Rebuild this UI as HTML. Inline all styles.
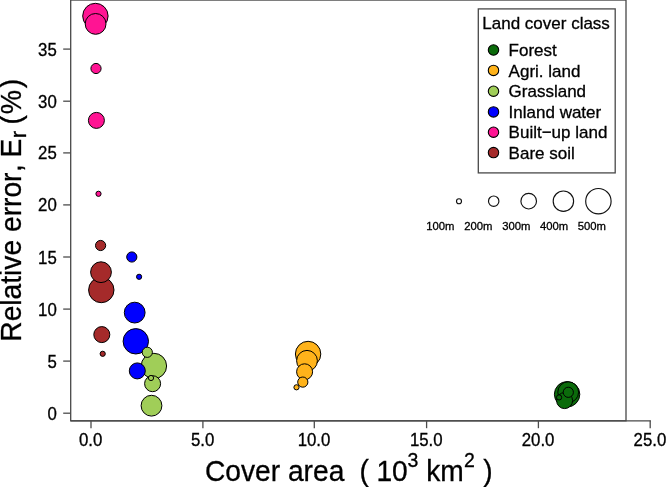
<!DOCTYPE html>
<html><head><meta charset="utf-8"><title>Relative error vs cover area</title>
<style>
html,body{margin:0;padding:0;background:#fff;}
body{width:666px;height:487px;overflow:hidden;}
svg{display:block;will-change:transform;}
text{font-family:"Liberation Sans",sans-serif;fill:#000;stroke:#000;stroke-width:0.3px;}
</style></head><body>
<svg width="666" height="487" viewBox="0 0 666 487">
<rect x="0" y="0" width="666" height="487" fill="#fff"/>
<rect x="70.7" y="0.05" width="555.3" height="420.75" fill="none" stroke="#484848" stroke-width="1.3"/>
<line x1="70.7" y1="420.8" x2="650.9" y2="420.8" stroke="#484848" stroke-width="1.3"/>
<line x1="91.0" y1="420.8" x2="91.0" y2="428.2" stroke="#4c4c4c" stroke-width="1.3"/>
<text font-size="16.8" text-anchor="middle" transform="translate(90.70,446.35) scale(1.000,1.045)">0.0</text>
<line x1="202.9" y1="420.8" x2="202.9" y2="428.2" stroke="#4c4c4c" stroke-width="1.3"/>
<text font-size="16.8" text-anchor="middle" transform="translate(202.55,446.35) scale(1.000,1.045)">5.0</text>
<line x1="314.3" y1="420.8" x2="314.3" y2="428.2" stroke="#4c4c4c" stroke-width="1.3"/>
<text font-size="16.8" text-anchor="middle" transform="translate(314.00,446.35) scale(1.000,1.045)">10.0</text>
<line x1="426.6" y1="420.8" x2="426.6" y2="428.2" stroke="#4c4c4c" stroke-width="1.3"/>
<text font-size="16.8" text-anchor="middle" transform="translate(426.25,446.35) scale(1.000,1.045)">15.0</text>
<line x1="538.4" y1="420.8" x2="538.4" y2="428.2" stroke="#4c4c4c" stroke-width="1.3"/>
<text font-size="16.8" text-anchor="middle" transform="translate(538.10,446.35) scale(1.000,1.045)">20.0</text>
<line x1="650.2" y1="420.8" x2="650.2" y2="428.2" stroke="#4c4c4c" stroke-width="1.3"/>
<text font-size="16.8" text-anchor="middle" transform="translate(649.95,446.35) scale(1.000,1.045)">25.0</text>
<line x1="63.2" y1="413.2" x2="70.7" y2="413.2" stroke="#4c4c4c" stroke-width="1.3"/>
<text font-size="16.8" text-anchor="end" transform="translate(56.80,419.70) scale(1.000,1.045)">0</text>
<line x1="63.2" y1="361.1" x2="70.7" y2="361.1" stroke="#4c4c4c" stroke-width="1.3"/>
<text font-size="16.8" text-anchor="end" transform="translate(56.80,367.63) scale(1.000,1.045)">5</text>
<line x1="63.2" y1="309.1" x2="70.7" y2="309.1" stroke="#4c4c4c" stroke-width="1.3"/>
<text font-size="16.8" text-anchor="end" transform="translate(56.80,315.57) scale(1.000,1.045)">10</text>
<line x1="63.2" y1="257.0" x2="70.7" y2="257.0" stroke="#4c4c4c" stroke-width="1.3"/>
<text font-size="16.8" text-anchor="end" transform="translate(56.80,263.50) scale(1.000,1.045)">15</text>
<line x1="63.2" y1="204.9" x2="70.7" y2="204.9" stroke="#4c4c4c" stroke-width="1.3"/>
<text font-size="16.8" text-anchor="end" transform="translate(56.80,211.44) scale(1.000,1.045)">20</text>
<line x1="63.2" y1="152.9" x2="70.7" y2="152.9" stroke="#4c4c4c" stroke-width="1.3"/>
<text font-size="16.8" text-anchor="end" transform="translate(56.80,159.38) scale(1.000,1.045)">25</text>
<line x1="63.2" y1="101.2" x2="70.7" y2="101.2" stroke="#4c4c4c" stroke-width="1.3"/>
<text font-size="16.8" text-anchor="end" transform="translate(56.80,107.71) scale(1.000,1.045)">30</text>
<line x1="63.2" y1="49.1" x2="70.7" y2="49.1" stroke="#4c4c4c" stroke-width="1.3"/>
<text font-size="16.8" text-anchor="end" transform="translate(56.80,55.65) scale(1.000,1.045)">35</text>
<text font-size="28.2" transform="translate(204.90,481.20) scale(1.000,1.070)">Cover area</text>
<text font-size="28.2" transform="translate(359.50,481.00) scale(1.000,1.040)">(</text>
<text font-size="28.2" transform="translate(376.40,481.00) scale(1.000,1.070)">10</text>
<text font-size="19.5" transform="translate(407.60,467.00) scale(1.000,1.070)">3</text>
<text font-size="28.2" transform="translate(426.20,481.00) scale(1.000,1.070)">km</text>
<text font-size="19.5" transform="translate(464.00,467.00) scale(1.000,1.070)">2</text>
<text font-size="28.2" transform="translate(483.30,481.00) scale(1.000,1.040)">)</text>
<g transform="translate(20.8,341.7) rotate(-90)">
<text font-size="28.2" transform="translate(0.00,0.00) scale(1.000,1.070)">Relative error</text>
<text font-size="28.2" transform="translate(169.80,0.00) scale(1.000,1.070)">,</text>
<text font-size="28.2" transform="translate(184.30,0.00) scale(1.000,1.070)">E</text>
<text font-size="20.0" transform="translate(203.40,5.20) scale(1.120,1.070)">r</text>
<text font-size="28.2" transform="translate(217.10,0.00) scale(1.000,1.040)">(</text>
<text font-size="28.2" transform="translate(227.50,0.00) scale(0.970,1.070)">%</text>
<text font-size="28.2" transform="translate(253.50,0.00) scale(1.000,1.040)">)</text>
</g>
<circle cx="95.4" cy="16.0" r="12.7" fill="#FF1493" stroke="#000" stroke-width="1.0"/>
<circle cx="101.3" cy="290.0" r="12.7" fill="#A52A2A" stroke="#000" stroke-width="1.0"/>
<circle cx="135.8" cy="341.3" r="12.7" fill="#0000FF" stroke="#000" stroke-width="1.0"/>
<circle cx="153.9" cy="366.0" r="12.7" fill="#A0CE58" stroke="#000" stroke-width="1.0"/>
<circle cx="308.1" cy="354.0" r="12.7" fill="#FFB31A" stroke="#000" stroke-width="1.0"/>
<circle cx="567.1" cy="394.3" r="12.7" fill="#0B6B0B" stroke="#000" stroke-width="1.0"/>
<circle cx="95.6" cy="23.9" r="10.4" fill="#FF1493" stroke="#000" stroke-width="1.0"/>
<circle cx="101.0" cy="272.2" r="10.4" fill="#A52A2A" stroke="#000" stroke-width="1.0"/>
<circle cx="134.7" cy="312.6" r="10.4" fill="#0000FF" stroke="#000" stroke-width="1.0"/>
<circle cx="151.5" cy="405.7" r="10.4" fill="#A0CE58" stroke="#000" stroke-width="1.0"/>
<circle cx="307.0" cy="360.8" r="10.4" fill="#FFB31A" stroke="#000" stroke-width="1.0"/>
<circle cx="568.2" cy="392.2" r="10.4" fill="#0B6B0B" stroke="#000" stroke-width="1.0"/>
<circle cx="96.4" cy="120.4" r="8.0" fill="#FF1493" stroke="#000" stroke-width="1.0"/>
<circle cx="101.8" cy="334.6" r="8.0" fill="#A52A2A" stroke="#000" stroke-width="1.0"/>
<circle cx="137.3" cy="370.9" r="8.0" fill="#0000FF" stroke="#000" stroke-width="1.0"/>
<circle cx="152.6" cy="383.7" r="8.0" fill="#A0CE58" stroke="#000" stroke-width="1.0"/>
<circle cx="304.6" cy="371.8" r="8.0" fill="#FFB31A" stroke="#000" stroke-width="1.0"/>
<circle cx="564.6" cy="400.6" r="8.0" fill="#0B6B0B" stroke="#000" stroke-width="1.0"/>
<circle cx="96.0" cy="68.5" r="5.1" fill="#FF1493" stroke="#000" stroke-width="1.0"/>
<circle cx="100.6" cy="245.5" r="5.1" fill="#A52A2A" stroke="#000" stroke-width="1.0"/>
<circle cx="131.8" cy="257.0" r="5.1" fill="#0000FF" stroke="#000" stroke-width="1.0"/>
<circle cx="147.3" cy="352.3" r="5.1" fill="#A0CE58" stroke="#000" stroke-width="1.0"/>
<circle cx="302.8" cy="382.1" r="5.1" fill="#FFB31A" stroke="#000" stroke-width="1.0"/>
<circle cx="568.3" cy="392.3" r="5.1" fill="#0B6B0B" stroke="#000" stroke-width="1.0"/>
<circle cx="98.5" cy="193.8" r="2.6" fill="#FF1493" stroke="#000" stroke-width="1.0"/>
<circle cx="102.7" cy="353.8" r="2.6" fill="#A52A2A" stroke="#000" stroke-width="1.0"/>
<circle cx="139.1" cy="276.8" r="2.6" fill="#0000FF" stroke="#000" stroke-width="1.0"/>
<circle cx="151.0" cy="378.0" r="2.6" fill="#A0CE58" stroke="#000" stroke-width="1.0"/>
<circle cx="296.5" cy="387.3" r="2.6" fill="#FFB31A" stroke="#000" stroke-width="1.0"/>
<circle cx="559.1" cy="397.4" r="2.6" fill="#0B6B0B" stroke="#000" stroke-width="1.0"/>
<rect x="478.3" y="8.9" width="136.9" height="164.0" fill="#fff" stroke="#484848" stroke-width="1.3"/>
<text font-size="17.0" transform="translate(482.30,28.90) scale(1.000,1.000)">Land cover class</text>
<circle cx="493.5" cy="50.0" r="5.2" fill="#0B6B0B" stroke="#000" stroke-width="1.1"/>
<text font-size="17.0" transform="translate(508.60,56.20) scale(1.000,1.000)">Forest</text>
<circle cx="493.5" cy="70.4" r="5.2" fill="#FFB31A" stroke="#000" stroke-width="1.1"/>
<text font-size="17.0" transform="translate(508.60,76.60) scale(1.000,1.000)">Agri. land</text>
<circle cx="493.5" cy="91.2" r="5.2" fill="#A0CE58" stroke="#000" stroke-width="1.1"/>
<text font-size="17.0" transform="translate(508.60,97.40) scale(1.000,1.000)">Grassland</text>
<circle cx="493.5" cy="111.9" r="5.2" fill="#0000FF" stroke="#000" stroke-width="1.1"/>
<text font-size="17.0" transform="translate(508.60,118.10) scale(1.000,1.000)">Inland water</text>
<circle cx="493.5" cy="132.2" r="5.2" fill="#FF1493" stroke="#000" stroke-width="1.1"/>
<text font-size="17.0" transform="translate(508.60,138.40) scale(1.000,1.000)">Built−up land</text>
<circle cx="493.5" cy="152.6" r="5.2" fill="#A52A2A" stroke="#000" stroke-width="1.1"/>
<text font-size="17.0" transform="translate(508.60,158.80) scale(1.000,1.000)">Bare soil</text>
<circle cx="459.0" cy="201.2" r="2.5" fill="#fff" stroke="#111" stroke-width="1.15"/>
<text font-size="11.3" text-anchor="middle" transform="translate(440.30,229.50) scale(1.000,1.045)">100m</text>
<circle cx="493.7" cy="201.2" r="5.2" fill="#fff" stroke="#111" stroke-width="1.15"/>
<text font-size="11.3" text-anchor="middle" transform="translate(478.30,229.50) scale(1.000,1.045)">200m</text>
<circle cx="528.7" cy="201.2" r="7.8" fill="#fff" stroke="#111" stroke-width="1.15"/>
<text font-size="11.3" text-anchor="middle" transform="translate(516.30,229.50) scale(1.000,1.045)">300m</text>
<circle cx="563.4" cy="201.2" r="10.2" fill="#fff" stroke="#111" stroke-width="1.15"/>
<text font-size="11.3" text-anchor="middle" transform="translate(554.00,229.50) scale(1.000,1.045)">400m</text>
<circle cx="598.4" cy="201.2" r="12.7" fill="#fff" stroke="#111" stroke-width="1.15"/>
<text font-size="11.3" text-anchor="middle" transform="translate(591.80,229.50) scale(1.000,1.045)">500m</text>
</svg></body></html>
